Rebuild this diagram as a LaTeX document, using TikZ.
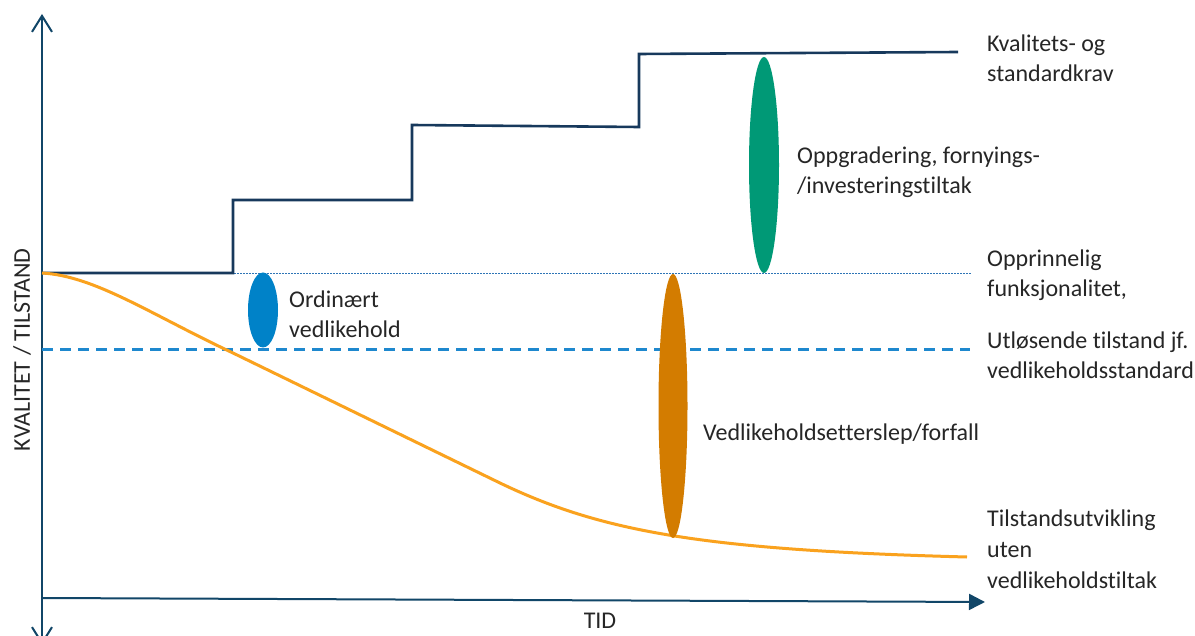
\documentclass[tikz,border=0pt]{standalone}
\usepackage{fontspec}
\setmainfont[Ligatures={NoCommon}]{Carlito}
\usetikzlibrary{arrows.meta,shapes.geometric}
\definecolor{txt}{RGB}{38,38,38}
\definecolor{axiscol}{RGB}{17,70,104}
\definecolor{stepcol}{RGB}{23,57,92}
\definecolor{dotcol}{RGB}{46,117,182}
\definecolor{dashcol}{RGB}{30,136,206}
\definecolor{curvecol}{RGB}{250,162,30}
\definecolor{blueblob}{RGB}{0,130,200}
\definecolor{greenblob}{RGB}{0,153,118}
\definecolor{orangeblob}{RGB}{211,124,0}
\begin{document}
\begin{tikzpicture}[x=1pt,y=-1pt,
  lbl/.style={anchor=base west,inner sep=0pt,align=left,text=txt,font=\fontsize{24}{30.7}\selectfont},
  blob/.style={ellipse,inner sep=0pt,draw=none}]
\clip (0,0) rectangle (1195,636);
\fill[white] (0,0) rectangle (1195,636);
% axes
\coordinate (ybot) at (42,645);
\coordinate (ytop) at (42,14);
\coordinate (xl) at (42,598);
\coordinate (xr) at (985,602);
\draw[axiscol,line width=2pt,{Straight Barb[length=16pt,width=20pt,line width=2pt]}-{Straight Barb[length=16pt,width=20pt,line width=2pt]}] (ybot) -- (ytop);
\draw[axiscol,line width=2pt,-{Triangle[length=16pt,width=16pt]}] (xl) -- (xr);
% reference lines
\draw[dotcol,line width=0.8pt,dash pattern=on 1.5pt off 1.5pt] (42,273) -- (972,273);
\draw[dashcol,line width=3pt,dash pattern=on 11pt off 7pt] (42,350) -- (970,350);
% step line
\draw[stepcol,line width=2.6pt] (42,273) -- (233,273) -- (233,200) -- (412,200) -- (412,125) -- (639,127) -- (639,54) -- (958,52);
% condition curve
\draw[curvecol,line width=3pt] (42,273) .. controls (95,276) and (150,314) .. (233,353) -- (500,483) .. controls (600,531) and (700,550) .. (967,557);
% blobs
\node[blob,fill=blueblob,minimum width=30pt,minimum height=75pt] (ord) at (263,310) {};
\node[blob,fill=greenblob,minimum width=30pt,minimum height=216pt] (opp) at (764,165) {};
\node[blob,fill=orangeblob,minimum width=29pt,minimum height=264pt] (forf) at (673,406) {};
% labels (base = baseline of last line)
\node[lbl] (tkrav) at (987,82) {Kvalitets- og\\standardkrav};
\node[lbl] (topp) at (797,194) {Oppgradering, fornyings-\\/investeringstiltak};
\node[lbl] (tfunk) at (987,297) {Opprinnelig\\funksjonalitet,};
\node[lbl] (tord) at (289,338) {Ordinært\\vedlikehold};
\node[lbl] (tutl) at (987,379) {Utløsende tilstand jf.\\vedlikeholdsstandard};
\node[lbl] (tforf) at (703,440) {Vedlikeholdsetterslep/forfall};
\node[lbl] (ttil) at (987,588) {Tilstandsutvikling\\uten\\vedlikeholdstiltak};
\node[anchor=base,inner sep=0pt,text=txt,font=\fontsize{24}{30.7}\selectfont] (ttid) at (600,628) {TID};
\node[anchor=center,inner sep=0pt,text=txt,font=\fontsize{24}{30.7}\selectfont,rotate=90] (tkval) at (22,350) {KVALITET / TILSTAND};
\end{tikzpicture}
\end{document}
